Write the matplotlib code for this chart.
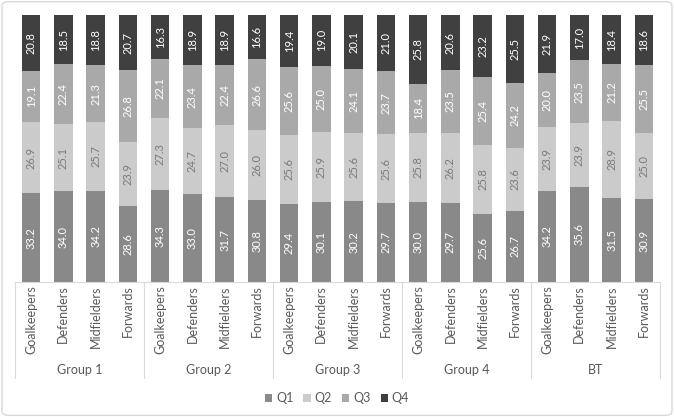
import numpy as np
import matplotlib.pyplot as plt
from matplotlib.patches import FancyBboxPatch

groups = ['Group 1', 'Group 2', 'Group 3', 'Group 4', 'BT']
positions = ['Goalkeepers', 'Defenders', 'Midfielders', 'Forwards']
series = ['Q1', 'Q2', 'Q3', 'Q4']

q1 = [33.2, 34.0, 34.2, 28.6, 34.3, 33.0, 31.7, 30.8, 29.4, 30.1,
      30.2, 29.7, 30.0, 29.7, 25.6, 26.7, 34.2, 35.6, 31.5, 30.9]
q2 = [26.9, 25.1, 25.7, 23.9, 27.3, 24.7, 27.0, 26.0, 25.6, 25.9,
      25.6, 25.6, 25.8, 26.2, 25.8, 23.6, 23.9, 23.9, 28.9, 25.0]
q3 = [19.1, 22.4, 21.3, 26.8, 22.1, 23.4, 22.4, 26.6, 25.6, 25.0,
      24.1, 23.7, 18.4, 23.5, 25.4, 24.2, 20.0, 23.5, 21.2, 25.5]
q4 = [20.8, 18.5, 18.8, 20.7, 16.3, 18.9, 18.9, 16.6, 19.4, 19.0,
      20.1, 21.0, 25.8, 20.6, 23.2, 25.5, 21.9, 17.0, 18.4, 18.6]

colors = ['#898989', '#cbcbcb', '#a9a9a9', '#404040']
text_colors = ['white', '#7a7a7a', 'white', 'white']
font = 'Lato'
grey = '#595959'

fig = plt.figure(figsize=(6.74, 4.17), dpi=100)
fig.patches.append(FancyBboxPatch((0.003, 0.004), 0.994, 0.992, boxstyle='round,pad=0,rounding_size=0.01',
                                  transform=fig.transFigure, fc='none', ec='#d9d9d9', lw=1, zorder=5))
ax = fig.add_axes([15 / 674, (417 - 282) / 417, 645 / 674, 267 / 417])

x = np.arange(len(q1))
bottom = np.zeros(len(q1))
for vals, name, c, tc in zip([q1, q2, q3, q4], series, colors, text_colors):
    vals = np.array(vals)
    ax.bar(x, vals, 0.57, bottom=bottom, color=c, label=name)
    for xi, b, v in zip(x, bottom, vals):
        ax.text(xi, b + v / 2, '%.1f' % v, rotation=90, ha='center', va='center',
                color=tc, fontsize=8, family=font)
    bottom += vals

ax.set_xlim(-0.5, len(q1) - 0.5)
ax.set_ylim(0, 100)
for s in ['top', 'right', 'left']:
    ax.spines[s].set_visible(False)
ax.spines['bottom'].set_color('#d9d9d9')
ax.set_xticks([])
ax.set_yticks([])

trans = ax.get_xaxis_transform()
labels = positions * len(groups)
for xi, lab in zip(x, labels):
    ax.text(xi, -0.012, lab, rotation=90, ha='center', va='top', color=grey,
            fontsize=9, family=font, transform=trans)
for gi, g in enumerate(groups):
    ax.text(gi * 4 + 1.5, -0.33, g, ha='center', va='center', color=grey,
            fontsize=9, family=font, transform=trans)
for b in np.arange(len(groups) + 1) * 4 - 0.5:
    ax.plot([b, b], [0, -0.36], color='#d9d9d9', lw=0.8, transform=trans, clip_on=False)

fig.legend(loc='center', bbox_to_anchor=(0.5, 1 - 398 / 417), ncol=4, frameon=False,
           handlelength=0.6, handleheight=0.6, handletextpad=0.3, columnspacing=0.8,
           prop={'family': font, 'size': 9}, labelcolor=grey)

fig.savefig('out.png', dpi=100)
